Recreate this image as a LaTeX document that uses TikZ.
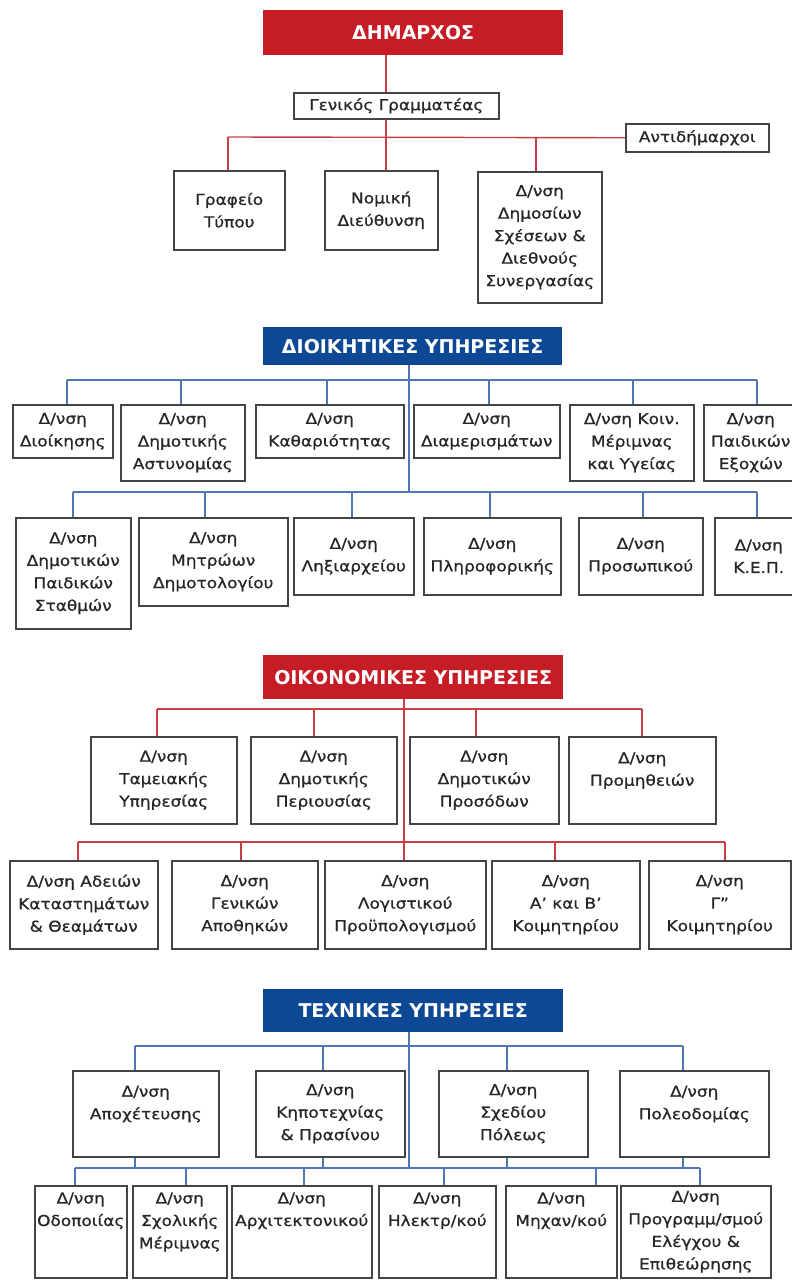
\documentclass[tikz,border=0pt]{standalone}
\usepackage{fontspec}
\setmainfont{DejaVu Sans}[FakeStretch=1.13, FakeBold=0.7]
\newfontfamily\headfont{DejaVu Sans}
\usepackage{xcolor}
\usepackage{tikz}
\usetikzlibrary{shadows}
\definecolor{mayorred}{RGB}{198,28,38}
\definecolor{deptblue}{RGB}{12,72,148}
\definecolor{wirered}{RGB}{200,62,66}
\definecolor{wireblue}{RGB}{78,118,178}
\definecolor{boxline}{RGB}{68,68,68}

\begin{document}
\begin{tikzpicture}[x=1pt, y=-1pt,
  head/.style={anchor=north west, text=white, inner sep=0pt,
    font=\headfont\bfseries\fontsize{19}{22}\selectfont},
  redhead/.style={head, fill=mayorred},
  bluehead/.style={head, fill=deptblue},
  unit/.style={anchor=north west, draw=boxline, line width=1.5pt, fill=white,
    align=center, inner sep=1pt, text=black!85,
    font=\fontsize{15}{22.5}\selectfont,
    drop shadow={shadow xshift=1.2pt, shadow yshift=-1.2pt, fill=black!30}},
  redwire/.style={draw=wirered, line width=1.4pt},
  bluewire/.style={draw=wireblue, line width=1.4pt}]
  \useasboundingbox (0,0) rectangle (792,1283);
  \fill[white] (0,0) rectangle (792,1283);
  \clip (0,0) rectangle (792,1283);

  % Mayor
  \node[redhead, minimum width=300, minimum height=45] (mayor) at (263,10) {ΔΗΜΑΡΧΟΣ};
  \node[unit, minimum width=205, minimum height=26] (gensec) at (293,92) {Γενικός Γραμματέας};
  \node[unit, minimum width=143, minimum height=28] (deputies) at (625,123) {Αντιδήμαρχοι};
  \node[unit, minimum width=111, minimum height=79] (press) at (173,170) {Γραφείο\\Τύπου};
  \node[unit, minimum width=113, minimum height=79] (legal) at (324,170) {Νομική\\Διεύθυνση};
  \node[unit, minimum width=124, minimum height=131] (pubrel) at (477,171)
    {Δ/νση\\Δημοσίων\\Σχέσεων \&\\Διεθνούς\\Συνεργασίας};
  \coordinate (mL) at (228,137);
  \draw[redwire] (mayor.south -| 386,0) -- (gensec.north -| 386,0);
  \draw[redwire] (gensec.south -| 386,0) -- (legal.north -| 386,0);
  \draw[redwire] (mL) -- (deputies.west);
  \draw[redwire] (press.north -| mL) -- (mL);
  \draw[redwire] (pubrel.north -| 536,0) -- (mL -| 536,0);

  % Administrative services
  \node[bluehead, minimum width=299, minimum height=38] (admin) at (263,327) {ΔΙΟΙΚΗΤΙΚΕΣ ΥΠΗΡΕΣΙΕΣ};
  \node[unit, minimum width=100, minimum height=53] (dioik) at (12,404) {Δ/νση\\Διοίκησης};
  \node[unit, minimum width=124, minimum height=76] (astyn) at (120,404) {Δ/νση\\Δημοτικής\\Αστυνομίας};
  \node[unit, minimum width=148, minimum height=53] (kathar) at (255,404) {Δ/νση\\Καθαριότητας};
  \node[unit, minimum width=146, minimum height=53] (diamer) at (413,404) {Δ/νση\\Διαμερισμάτων};
  \node[unit, minimum width=124, minimum height=76] (koin) at (569,404) {Δ/νση Κοιν.\\Μέριμνας\\και Υγείας};
  \node[unit, minimum width=94, minimum height=76] (exox) at (703,404) {Δ/νση\\Παιδικών\\Εξοχών};
  \node[unit, minimum width=115, minimum height=111] (stath) at (15,517) {Δ/νση\\Δημοτικών\\Παιδικών\\Σταθμών};
  \node[unit, minimum width=149, minimum height=88] (mitr) at (138,517) {Δ/νση\\Μητρώων\\Δημοτολογίου};
  \node[unit, minimum width=120, minimum height=77] (lixi) at (293,517) {Δ/νση\\Ληξιαρχείου};
  \node[unit, minimum width=137, minimum height=77] (plir) at (423,517) {Δ/νση\\Πληροφορικής};
  \node[unit, minimum width=124, minimum height=77] (pros) at (578,517) {Δ/νση\\Προσωπικού};
  \node[unit, minimum width=88, minimum height=77] (kep) at (714,517) {Δ/νση\\Κ.Ε.Π.};
  \coordinate (aL) at (67,380);
  \coordinate (aR) at (757,380);
  \coordinate (bL) at (73,492);
  \coordinate (bR) at (757,492);
  \draw[bluewire] (admin.south -| 409,0) -- (bL -| 409,0);
  \draw[bluewire] (aL) -- (aR);
  \draw[bluewire] (bL) -- (bR);
  \foreach \n/\x in {dioik/67, astyn/181, kathar/327, diamer/489, koin/633, exox/757}
    \draw[bluewire] (\n.north -| \x,0) -- (aL -| \x,0);
  \foreach \n/\x in {stath/73, mitr/205, lixi/352, plir/490, pros/643, kep/757}
    \draw[bluewire] (\n.north -| \x,0) -- (bL -| \x,0);

  % Financial services
  \node[redhead, minimum width=300, minimum height=44] (econ) at (263,655) {ΟΙΚΟΝΟΜΙΚΕΣ ΥΠΗΡΕΣΙΕΣ};
  \node[unit, minimum width=146, minimum height=87] (tam) at (90,736) {Δ/νση\\Ταμειακής\\Υπηρεσίας};
  \node[unit, minimum width=146, minimum height=87] (periou) at (250,736) {Δ/νση\\Δημοτικής\\Περιουσίας};
  \node[unit, minimum width=149, minimum height=87] (prosod) at (409,736) {Δ/νση\\Δημοτικών\\Προσόδων};
  \node[unit, minimum width=147, minimum height=87] (prom) at (568,736) {Δ/νση\\Προμηθειών\\\mbox{}};
  \node[unit, minimum width=148, minimum height=88] (adeion) at (9,860) {Δ/νση Αδειών\\Καταστημάτων\\\& Θεαμάτων};
  \node[unit, minimum width=146, minimum height=88] (apoth) at (171,860) {Δ/νση\\Γενικών\\Αποθηκών};
  \node[unit, minimum width=161, minimum height=88] (logist) at (324,860) {Δ/νση\\Λογιστικού\\Προϋπολογισμού};
  \node[unit, minimum width=148, minimum height=88] (koimab) at (491,860) {Δ/νση\\Α’ και Β’\\Κοιμητηρίου};
  \node[unit, minimum width=142, minimum height=88] (koimg) at (648,860) {Δ/νση\\Γ”\\Κοιμητηρίου};
  \coordinate (cL) at (157,709);
  \coordinate (cR) at (642,709);
  \coordinate (dL) at (78,842);
  \coordinate (dR) at (725,842);
  \draw[redwire] (econ.south -| 404,0) -- (logist.north -| 404,0);
  \draw[redwire] (cL) -- (cR);
  \draw[redwire] (dL) -- (dR);
  \foreach \n/\x in {tam/157, periou/314, prosod/476, prom/642}
    \draw[redwire] (\n.north -| \x,0) -- (cL -| \x,0);
  \foreach \n/\x in {adeion/78, apoth/241, koimab/555, koimg/725}
    \draw[redwire] (\n.north -| \x,0) -- (dL -| \x,0);

  % Technical services
  \node[bluehead, minimum width=300, minimum height=43] (tech) at (263,989) {ΤΕΧΝΙΚΕΣ ΥΠΗΡΕΣΙΕΣ};
  \node[unit, minimum width=146, minimum height=86] (apox) at (72,1070) {Δ/νση\\Αποχέτευσης\\\mbox{}};
  \node[unit, minimum width=149, minimum height=86] (kipo) at (255,1070) {Δ/νση\\Κηποτεχνίας\\\& Πρασίνου};
  \node[unit, minimum width=149, minimum height=86] (sxed) at (438,1070) {Δ/νση\\Σχεδίου\\Πόλεως};
  \node[unit, minimum width=149, minimum height=86] (poleo) at (619,1070) {Δ/νση\\Πολεοδομίας\\\mbox{}};
  \node[unit, minimum width=92, minimum height=92] (odop) at (34,1185) {Δ/νση\\Οδοποιίας\\\mbox{}\\\mbox{}};
  \node[unit, minimum width=94, minimum height=92] (sxol) at (132,1185) {Δ/νση\\Σχολικής\\Μέριμνας\\\mbox{}};
  \node[unit, minimum width=140, minimum height=92] (arch) at (231,1185) {Δ/νση\\Αρχιτεκτονικού\\\mbox{}\\\mbox{}};
  \node[unit, minimum width=117, minimum height=92] (ilek) at (378,1185) {Δ/νση\\Ηλεκτρ/κού\\\mbox{}\\\mbox{}};
  \node[unit, minimum width=111, minimum height=92] (mich) at (505,1185) {Δ/νση\\Μηχαν/κού\\\mbox{}\\\mbox{}};
  \node[unit, minimum width=150, minimum height=92] (progr) at (620,1185) {Δ/νση\\Προγραμμ/σμού\\Ελέγχου \&\\Επιθεώρησης};
  \coordinate (eL) at (135,1046);
  \coordinate (eR) at (683,1046);
  \coordinate (fL) at (75,1168);
  \coordinate (fR) at (700,1168);
  \draw[bluewire] (tech.south -| 409,0) -- (fL -| 409,0);
  \draw[bluewire] (eL) -- (eR);
  \draw[bluewire] (fL) -- (fR);
  \foreach \n/\x in {apox/135, kipo/323, sxed/507, poleo/683} {
    \draw[bluewire] (\n.north -| \x,0) -- (eL -| \x,0);
    \draw[bluewire] (\n.south -| \x,0) -- (fL -| \x,0);
  }
  \foreach \n/\x in {odop/75, sxol/186, arch/304, ilek/444, mich/596, progr/700}
    \draw[bluewire] (\n.north -| \x,0) -- (fL -| \x,0);
\end{tikzpicture}
\end{document}
